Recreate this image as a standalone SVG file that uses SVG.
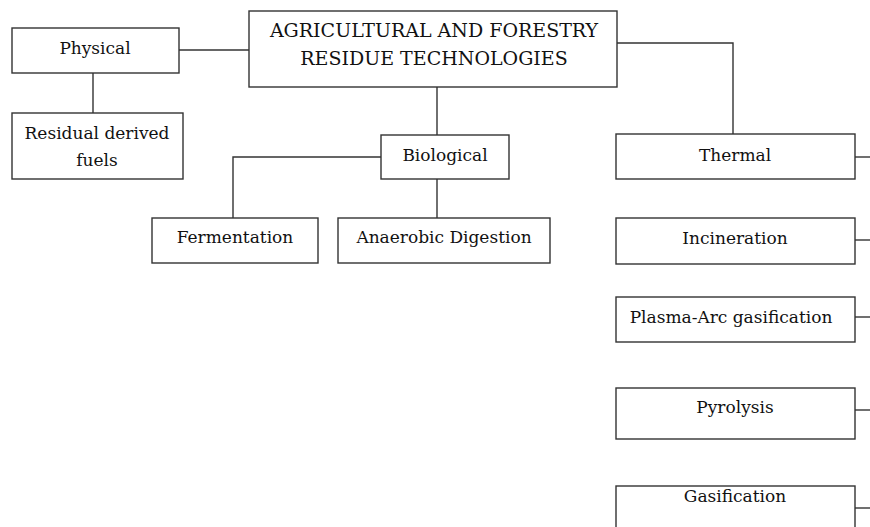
<svg xmlns="http://www.w3.org/2000/svg" width="870" height="527" viewBox="0 0 870 527">
<style>
.box{fill:#fff;stroke:#333;stroke-width:1.4}
.ln{fill:none;stroke:#333;stroke-width:1.4}
text{font-family:"DejaVu Serif",serif;font-size:17px;fill:#111;text-anchor:middle}
.caps{font-size:19px}
</style>
<rect width="870" height="527" fill="#fff"/>
<g id="connectors">
<path class="ln" d="M179,50 H249"/>
<path class="ln" d="M93,73 V113"/>
<path class="ln" d="M437,87 V135"/>
<path class="ln" d="M381,157 H233 V218"/>
<path class="ln" d="M437,179 V218"/>
<path class="ln" d="M617,43 H733 V134"/>
<path class="ln" d="M855,157 H870"/>
<path class="ln" d="M855,240 H870"/>
<path class="ln" d="M855,317 H870"/>
<path class="ln" d="M855,410 H870"/>
<path class="ln" d="M855,508 H870"/>
</g>
<g id="root"><rect class="box" x="249" y="11" width="368" height="76"/><text class="caps" x="434" y="37">AGRICULTURAL AND FORESTRY</text><text class="caps" x="434" y="65">RESIDUE TECHNOLOGIES</text></g>
<g id="physical"><rect class="box" x="12" y="28" width="167" height="45"/><text x="95" y="54">Physical</text></g>
<g id="rdf"><rect class="box" x="12" y="113" width="171" height="66"/><text x="97" y="139">Residual derived</text><text x="97" y="166">fuels</text></g>
<g id="biological"><rect class="box" x="381" y="135" width="128" height="44"/><text x="445" y="161">Biological</text></g>
<g id="fermentation"><rect class="box" x="152" y="218" width="166" height="45"/><text x="235" y="243">Fermentation</text></g>
<g id="anaerobic"><rect class="box" x="338" y="218" width="212" height="45"/><text x="444" y="243">Anaerobic Digestion</text></g>
<g id="thermal"><rect class="box" x="616" y="134" width="239" height="45"/><text x="735" y="161">Thermal</text></g>
<g id="incineration"><rect class="box" x="616" y="218" width="239" height="46"/><text x="735" y="244">Incineration</text></g>
<g id="plasma"><rect class="box" x="616" y="297" width="239" height="45"/><text x="731" y="323">Plasma-Arc gasification</text></g>
<g id="pyrolysis"><rect class="box" x="616" y="388" width="239" height="51"/><text x="735" y="413">Pyrolysis</text></g>
<g id="gasification"><rect class="box" x="616" y="486" width="239" height="60"/><text x="735" y="502">Gasification</text></g>
</svg>
